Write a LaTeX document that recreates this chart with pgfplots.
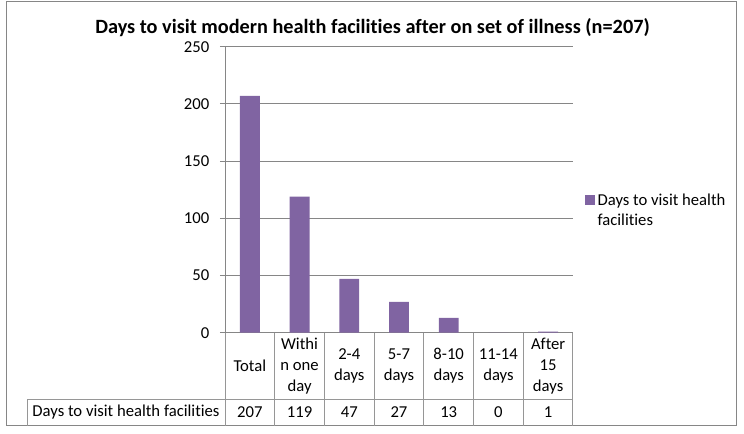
\documentclass[border=0pt]{standalone}
\usepackage{pgfplots}
\pgfplotsset{compat=1.18}
\usepackage{fontspec}
\setmainfont{Carlito}[Ligatures=NoCommon]
\definecolor{barpurple}{RGB}{128,100,162}
\definecolor{gridgray}{RGB}{134,134,134}
\definecolor{tablegray}{RGB}{150,150,150}
\begin{document}
\begin{tikzpicture}[x=1pt,y=1pt]
\path (0,0) rectangle (558,325.5);
\draw[gridgray, line width=0.75pt] (4.5,6) rectangle (552,324);
\node[font=\fontsize{15.2}{17}\bfseries\selectfont] at (279.4,304.5) {Days to visit modern health facilities after on set of illness (n=207)};
\begin{axis}[
 at={(168.75pt,76pt)}, anchor=south west,
 scale only axis, width=261pt, height=214.5pt,
 xmin=-0.5, xmax=6.5, ymin=0, ymax=250,
 ytick distance=50, xtick=\empty,
 axis lines*=left, axis line style={gridgray, line width=0.75pt},
 ymajorgrids, grid style={gridgray, line width=0.75pt},
 tick align=outside, major tick length=3.75pt, tick style={gridgray, line width=0.75pt},
 ticklabel style={font=\fontsize{12.5}{15}\selectfont},
 yticklabel style={xshift=-4.5pt},
 /pgf/number format/assume math mode=true,
 clip=false,
 legend style={at={(1.022,0.428)}, anchor=west, draw=none, fill=none,
   font=\fontsize{12.5}{15}\selectfont, cells={align=left}},
 legend image code/.code={\fill[barpurple] (-1.5pt,3.75pt) rectangle (6pt,11.25pt);},
]
\addplot[ybar, bar width=0.4, fill=barpurple, draw=none] coordinates {(0,207) (1,119) (2,47) (3,27) (4,13) (5,0) (6,1)};
\addlegendentry{Days to visit health\\facilities}
\pgfplotsinvokeforeach{-0.5,0.5,1.5,2.5,3.5,4.5,5.5,6.5}{
  \draw[tablegray, line width=0.75pt] (axis cs:#1,0) -- ++(0pt,-69.75pt);
}
\begin{scope}[font=\fontsize{12.5}{15.6}\selectfont]
\node[align=center, yshift=-25pt] at (axis cs:0,0) {Total};
\node[align=center, yshift=-25pt] at (axis cs:1,0) {Withi\\n one\\day};
\node[align=center, yshift=-25pt] at (axis cs:2,0) {2-4\\days};
\node[align=center, yshift=-25pt] at (axis cs:3,0) {5-7\\days};
\node[align=center, yshift=-25pt] at (axis cs:4,0) {8-10\\days};
\node[align=center, yshift=-25pt] at (axis cs:5,0) {11-14\\days};
\node[align=center, yshift=-25pt] at (axis cs:6,0) {After\\15\\days};
\node[yshift=-59.9pt] at (axis cs:0,0) {207};
\node[yshift=-59.9pt] at (axis cs:1,0) {119};
\node[yshift=-59.9pt] at (axis cs:2,0) {47};
\node[yshift=-59.9pt] at (axis cs:3,0) {27};
\node[yshift=-59.9pt] at (axis cs:4,0) {13};
\node[yshift=-59.9pt] at (axis cs:5,0) {0};
\node[yshift=-59.9pt] at (axis cs:6,0) {1};
\end{scope}
\end{axis}
\draw[tablegray, line width=0.75pt] (20.25,26.05) -- (429.75,26.05);
\draw[tablegray, line width=0.75pt] (20.25,26.05) -- (20.25,6);
\node[font=\fontsize{12.5}{15}\selectfont] at (94.5,16.1) {Days to visit health facilities};
\end{tikzpicture}
\end{document}
